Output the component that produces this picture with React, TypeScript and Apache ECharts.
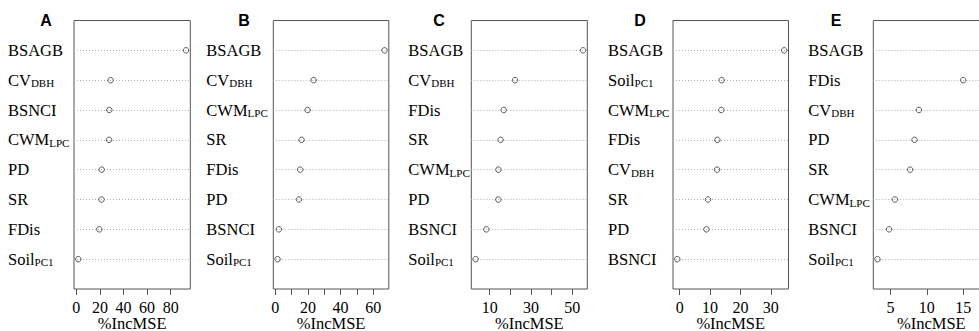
import React, { useEffect, useRef } from "react";
import * as echarts from "echarts";

// Panel letters
const panelLetters = ["A", "B", "C", "D", "E"];

// Variable names (top to bottom) and %IncMSE values for each panel
const namesA = ["BSAGB", "CV_DBH", "BSNCI", "CWM_LPC", "PD", "SR", "FDis", "Soil_PC1"];
const valuesA = [93, 29.1, 28, 27.8, 21.5, 21.4, 19.5, 1.7];

const namesB = ["BSAGB", "CV_DBH", "CWM_LPC", "SR", "FDis", "PD", "BSNCI", "Soil_PC1"];
const valuesB = [67, 23.5, 19.8, 16.1, 15.3, 14.5, 2.2, 1.4];

const namesC = ["BSAGB", "CV_DBH", "FDis", "SR", "CWM_LPC", "PD", "BSNCI", "Soil_PC1"];
const valuesC = [55.2, 22.3, 16.8, 15.3, 14.25, 14.2, 8.4, 3.2];

const namesD = ["BSAGB", "Soil_PC1", "CWM_LPC", "FDis", "CV_DBH", "SR", "PD", "BSNCI"];
const valuesD = [34.4, 13.8, 13.7, 12.4, 12.3, 9.3, 8.8, -0.8];

const namesE = ["BSAGB", "FDis", "CV_DBH", "PD", "SR", "CWM_LPC", "BSNCI", "Soil_PC1"];
const valuesE = [18.0, 15.0, 8.9, 8.3, 7.7, 5.6, 4.8, 3.2];

// x-axis tick labels and tick marks
const labelTicksA = [0, 20, 40, 60, 80];
const tickMarksA = [0, 20, 40, 60, 80];
const labelTicksB = [0, 20, 40, 60];
const tickMarksB = [0, 10, 20, 30, 40, 50, 60];
const labelTicksC = [10, 30, 50];
const tickMarksC = [10, 20, 30, 40, 50];
const labelTicksD = [0, 10, 20, 30];
const tickMarksD = [0, 10, 20, 30];
const labelTicksE = [5, 10, 15];
const tickMarksE = [5, 10, 15];

const xAxisTitle = "%IncMSE";

// layout per panel
const panels = [
  { names: namesA, values: valuesA, labels: labelTicksA, ticks: tickMarksA, min: -1.95, max: 96.65, left: 74, width: 116.3, labelMargin: 66, letterX: 46 },
  { names: namesB, values: valuesB, labels: labelTicksB, ticks: tickMarksB, min: -1.22, max: 69.6, left: 273.3, width: 115.5, labelMargin: 67, letterX: 244 },
  { names: namesC, values: valuesC, labels: labelTicksC, ticks: tickMarksC, min: 1.12, max: 57.28, left: 471.3, width: 116, labelMargin: 63, letterX: 439 },
  { names: namesD, values: valuesD, labels: labelTicksD, ticks: tickMarksD, min: -2.21, max: 35.81, left: 673, width: 115.5, labelMargin: 65, letterX: 640 },
  { names: namesE, values: valuesE, labels: labelTicksE, ticks: tickMarksE, min: 2.63, max: 18.59, left: 873.3, width: 116, labelMargin: 65, letterX: 836 },
];

const SERIF = "Liberation Serif";

function richName(name: string): string {
  const parts = name.split("_");
  if (parts.length === 2) return `{m|${parts[0]}}{s|${parts[1]}}`;
  return `{m|${name}}`;
}

export default function App() {
  const ref = useRef<HTMLDivElement>(null);

  useEffect(() => {
    if (!ref.current) return;
    const chart = echarts.init(ref.current, undefined, { renderer: "svg" });
    const top = 20.5;
    const height = 268.5;

    const grid = panels.map((p) => ({
      left: p.left,
      top,
      width: p.width,
      height,
      show: true,
      borderColor: "#555",
      borderWidth: 1,
      backgroundColor: "transparent",
      containLabel: false,
      outerBoundsMode: "none",
    }));

    const xAxis = panels.map((p, i) => ({
      gridIndex: i,
      type: "value",
      min: p.min,
      max: p.max,
      axisLine: { show: false },
      splitLine: { show: false },
      axisTick: {
        show: true,
        customValues: p.ticks,
        length: 6,
        lineStyle: { color: "#555", width: 1 },
      },
      axisLabel: {
        customValues: p.labels,
        fontFamily: SERIF,
        fontSize: 16,
        color: "#000",
        margin: 10,
      },
      name: xAxisTitle,
      nameLocation: "middle",
      nameGap: 26,
      nameMoveOverlap: false,
      nameTextStyle: { fontFamily: SERIF, fontSize: 16.5, color: "#000" },
    }));

    const yAxis = panels.map((p, i) => ({
      gridIndex: i,
      type: "value",
      min: 0,
      max: 9,
      interval: 1,
      axisLine: { show: false },
      axisTick: { show: false },
      splitLine: {
        show: true,
        showMinLine: false,
        showMaxLine: false,
        lineStyle: { color: "#b0b0b0", type: [1, 2], width: 1 },
      },
      axisLabel: {
        customValues: [1, 2, 3, 4, 5, 6, 7, 8],
        align: "left",
        margin: p.labelMargin,
        formatter: (v: number) => {
          const idx = 8 - Math.round(v);
          const n = p.names[idx];
          return n ? richName(n) : "";
        },
        rich: {
          m: { fontFamily: SERIF, fontSize: 16.5, color: "#000", lineHeight: 18 },
          s: { fontFamily: SERIF, fontSize: 11, color: "#000", lineHeight: 12, padding: [6, 0, 0, 0] },
        },
      },
    }));

    const series = panels.map((p, i) => ({
      type: "scatter",
      xAxisIndex: i,
      yAxisIndex: i,
      symbol: "circle",
      symbolSize: 5.5,
      itemStyle: { color: "rgba(255,255,255,0)", borderColor: "#333", borderWidth: 1 },
      data: p.values.map((v, j) => [v, 8 - j]),
      clip: false,
    }));

    const graphic = panels.map((p, i) => ({
      type: "text",
      x: p.letterX,
      y: 20.5,
      style: {
        text: panelLetters[i],
        font: "bold 16px Liberation Sans",
        fill: "#000",
        textAlign: "center",
        textVerticalAlign: "middle",
      },
    }));

    chart.setOption({
      animation: false,
      grid,
      xAxis,
      yAxis,
      series,
      graphic,
    } as any);

    return () => chart.dispose();
  }, []);

  return (
    <div
      ref={ref}
      style={{ position: "fixed", left: 0, top: 0, width: 979, height: 331, background: "#fff" }}
    />
  );
}
